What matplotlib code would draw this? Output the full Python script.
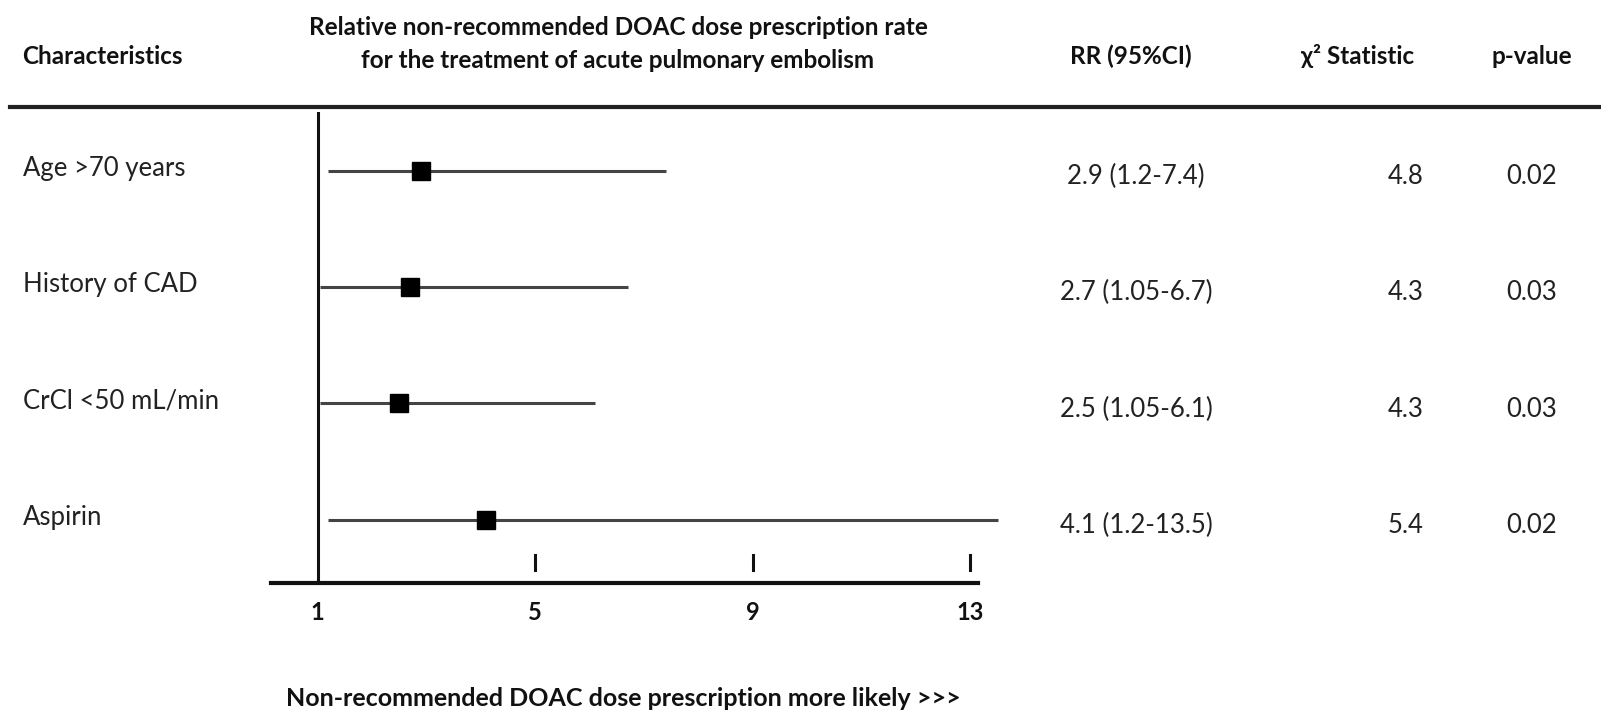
import matplotlib
matplotlib.use("Agg")
import matplotlib.pyplot as plt
from matplotlib.lines import Line2D
from matplotlib import transforms as mtrans

plt.rcParams['font.family'] = ['Lato', 'DejaVu Sans']

# ---------------- data ----------------
characteristics = ["Age >70 years", "History of CAD", "CrCl <50 mL/min", "Aspirin"]
rr = [2.9, 2.7, 2.5, 4.1]
ci_low = [1.2, 1.05, 1.05, 1.2]
ci_high = [7.4, 6.7, 6.1, 13.5]
rr_text = ["2.9 (1.2-7.4)", "2.7 (1.05-6.7)", "2.5 (1.05-6.1)", "4.1 (1.2-13.5)"]
chi2 = ["4.8", "4.3", "4.3", "5.4"]
pvals = ["0.02", "0.03", "0.03", "0.02"]
xticks = [1, 5, 9, 13]
title_lines = ["Relative non-recommended DOAC dose prescription rate",
               "for the treatment of acute pulmonary embolism"]
col_headers = ["Characteristics", "RR (95%CI)", "\u03c7\u00b2 Statistic", "p-value"]
bottom_label = "Non-recommended DOAC dose prescription more likely >>>"

W, H = 1601, 713
fig = plt.figure(figsize=(W / 100, H / 100), dpi=100)
fig.patch.set_facecolor("white")

def fx(px):
    return px / W

def fy(py):
    return 1 - py / H

# axes for forest area (pixel box)
left_px, right_px = 270.6, 978.0
top_px, bot_px = 112.0, 583.0
ax = fig.add_axes([fx(left_px), fy(bot_px), fx(right_px) - fx(left_px), (bot_px - top_px) / H])
ax.set_xlim(0.136, 13.14)
ax.set_ylim(3.544, -0.503)
ax.patch.set_alpha(0)
for s in ["top", "right", "left"]:
    ax.spines[s].set_visible(False)
ax.spines["bottom"].set_linewidth(3)
ax.spines["bottom"].set_color("#111111")
ax.axvline(1, color="#111111", lw=2.2, zorder=2)

ypos = list(range(len(characteristics)))
for i in ypos:
    ax.plot([ci_low[i], ci_high[i]], [i, i], color="#444444", lw=2.2, clip_on=False,
            solid_capstyle="butt", zorder=3)
ax.plot(rr, ypos, linestyle="none", marker="s", markersize=13, color="black",
        clip_on=False, zorder=4)

ax.set_yticks([])
ax.set_xticks(xticks)
ax.set_xticklabels([str(t) for t in xticks], fontsize=17, fontweight="bold")
ax.tick_params(axis="x", direction="in", length=0, pad=13, colors="#111111")
# small upward tick marks separated from spine (skip 1, covered by vertical line)
for t in xticks[1:]:
    ax.plot([t, t], [3.30, 3.43], color="#111111", lw=2.2, clip_on=False)

# header line
fig.add_artist(Line2D([fx(10), fx(1601)], [fy(107), fy(107)], color="#222222", lw=3))

# headers
hdr_kw = dict(fontsize=17.5, fontweight="bold", color="#111111", va="center")
fig.text(fx(22.5), fy(56), col_headers[0], ha="left", **hdr_kw)
fig.text(fx(618), fy(27.5), title_lines[0], ha="center", **hdr_kw)
fig.text(fx(618), fy(61), title_lines[1], ha="center", **hdr_kw)
fig.text(fx(1131), fy(56), col_headers[1], ha="center", **hdr_kw)
fig.text(fx(1358), fy(56), col_headers[2], ha="center", **hdr_kw)
fig.text(fx(1532), fy(56), col_headers[3], ha="center", **hdr_kw)

# row texts
blend = mtrans.blended_transform_factory(fig.transFigure, ax.transData)
lab_tr = mtrans.offset_copy(blend, fig=fig, x=0, y=2, units="dots")
val_tr = mtrans.offset_copy(blend, fig=fig, x=0, y=-6, units="dots")
row_kw = dict(fontsize=18.5, color="#222222", va="center")
for i in ypos:
    fig.text(fx(22.5), i, characteristics[i], ha="left", transform=lab_tr, **row_kw)
    fig.text(fx(1136), i, rr_text[i], ha="center", transform=val_tr, **row_kw)
    fig.text(fx(1406), i, chi2[i], ha="center", transform=val_tr, **row_kw)
    fig.text(fx(1532), i, pvals[i], ha="center", transform=val_tr, **row_kw)

fig.text(fx(623), fy(699), bottom_label, ha="center", fontsize=18, fontweight="bold",
         color="#111111", va="center")

fig.savefig("out.png", dpi=100, facecolor="white")
